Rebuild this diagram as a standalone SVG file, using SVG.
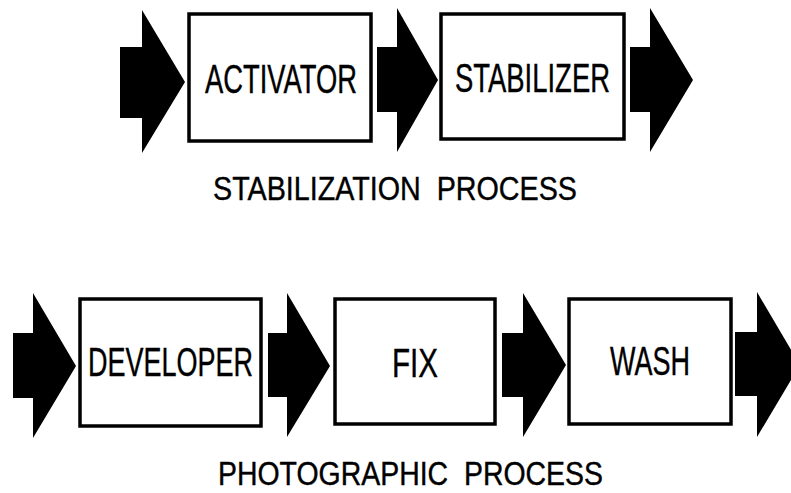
<svg xmlns="http://www.w3.org/2000/svg" width="791" height="493" viewBox="0 0 791 493">
<style>
.box{fill:#fff;stroke:#000;stroke-width:3.5}
.lbl{font-family:"Liberation Sans",Arial,sans-serif;font-size:40px;fill:#000;stroke:#000;stroke-width:0.4}
.ttl{font-family:"Liberation Sans",Arial,sans-serif;font-size:33px;fill:#000;stroke:#000;stroke-width:0.4;white-space:pre}
.arr{fill:#000;stroke:none}
</style>
<rect width="791" height="493" fill="#fff"/>
<g id="connectors">
<polygon class="arr" points="120,47 142,47 142,10 185,82 142,153 142,118 120,118"/>
<polygon class="arr" points="377,47 397,47 397,8 438,80 397,152 397,112 377,112"/>
<polygon class="arr" points="630,47 650,47 650,8 693,80 650,152 650,112 630,112"/>
<polygon class="arr" points="13,333 33,333 33,293 76,366 33,438 33,398 13,398"/>
<polygon class="arr" points="268,333 287,333 287,293 330,366 287,437 287,397 268,397"/>
<polygon class="arr" points="502,333 523,333 523,293 566,365 523,437 523,397 502,397"/>
<polygon class="arr" points="735,332 757,332 757,292 800,365 757,437 757,396 735,396"/>
</g>
<g id="activator">
<rect class="box" x="189" y="14" width="182" height="127"/>
<text class="lbl" x="205" y="93" textLength="152" lengthAdjust="spacingAndGlyphs">ACTIVATOR</text>
</g>
<g id="stabilizer">
<rect class="box" x="441" y="14" width="183" height="125"/>
<text class="lbl" x="455" y="92" textLength="155" lengthAdjust="spacingAndGlyphs">STABILIZER</text>
</g>
<g id="developer">
<rect class="box" x="80" y="299" width="181" height="127"/>
<text class="lbl" x="88" y="376" textLength="165" lengthAdjust="spacingAndGlyphs">DEVELOPER</text>
</g>
<g id="fix">
<rect class="box" x="335" y="299" width="160" height="125"/>
<text class="lbl" x="392" y="377" textLength="46" lengthAdjust="spacingAndGlyphs">FIX</text>
</g>
<g id="wash">
<rect class="box" x="569" y="299" width="162" height="125"/>
<text class="lbl" x="610" y="375" textLength="80" lengthAdjust="spacingAndGlyphs">WASH</text>
</g>
<text class="ttl" x="213" y="200" textLength="364" lengthAdjust="spacingAndGlyphs" xml:space="preserve">STABILIZATION  PROCESS</text>
<text class="ttl" x="218" y="485" textLength="385" lengthAdjust="spacingAndGlyphs" xml:space="preserve">PHOTOGRAPHIC  PROCESS</text>
</svg>
